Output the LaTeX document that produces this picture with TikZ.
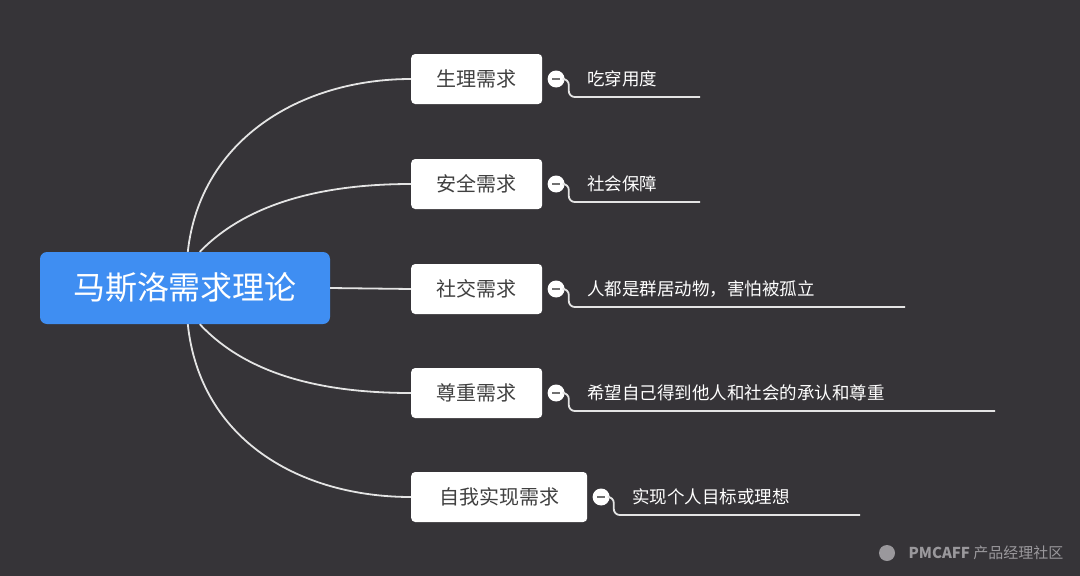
\documentclass[tikz,border=0pt]{standalone}
\usepackage{fontspec}
\setmainfont{Noto Sans CJK SC}
\usetikzlibrary{positioning}
\usetikzlibrary{calc}
\definecolor{bgdark}{HTML}{363438}
\definecolor{rootblue}{HTML}{3F8EF2}
\definecolor{linegrey}{HTML}{E4E4E4}
\definecolor{minusgrey}{HTML}{707070}
\definecolor{markgrey}{HTML}{9A989C}

\tikzset{
  needbox/.style={draw=none, fill=white, rounded corners=4pt, minimum height=50pt,
    inner xsep=20pt, text=black!75, font=\fontsize{20}{20}\selectfont, anchor=west},
  leaftext/.style={text=white, font=\fontsize{17.5}{17.5}\selectfont, anchor=west, inner sep=0pt},
  branch/.style={draw=linegrey, line width=1.8pt},
  collapse/.style={circle, fill=white, minimum size=17pt, inner sep=0pt},
}

\begin{document}
\begin{tikzpicture}[x=1pt, y=-1pt]

\fill[bgdark] (0,0) rectangle (1080,576);
\useasboundingbox (0,0) rectangle (1080,576);

\node[fill=rootblue, rounded corners=7pt, minimum width=290pt, minimum height=72pt,
  text=white, font=\fontsize{32}{32}\selectfont] (root) at (185,288) {马斯洛需求理论};

% need boxes, their leaves and underlines
\foreach \name/\ypos/\boxw/\need/\leaf/\lineend in {
  phys/79/131/生理需求/吃穿用度/700,
  safe/184/131/安全需求/社会保障/700,
  soc/289/131/社交需求/人都是群居动物，害怕被孤立/905,
  est/393/131/尊重需求/希望自己得到他人和社会的承认和尊重/995,
  self/497/176/自我实现需求/实现个人目标或理想/860} {
  \node[needbox, minimum width=\boxw pt] (\name) at (411,\ypos) {\need};
  \node[collapse, right=5pt of \name] (\name c) {};
  \draw[minusgrey, line width=1.6pt] ($(\name c)+(-4,0)$) -- ($(\name c)+(4,0)$);
  \node[leaftext, right=22pt of \name c] (\name l) {\leaf};
  \draw[branch, rounded corners=6pt] (\name c.east) -- ++(4,0) |- (\lineend,\ypos+18);
}

\draw[branch] (root.east) -- (soc.west);
\draw[branch] ($(root.north west)+(148,0)$) .. controls (200,140) and (300,79) .. (phys.west);
\draw[branch] ($(root.north west)+(160,0)$) .. controls (250,200) and (330,184) .. (safe.west);
\draw[branch] ($(root.south west)+(160,0)$) .. controls (250,378) and (330,393) .. (est.west);
\draw[branch] ($(root.south west)+(148,0)$) .. controls (200,440) and (300,497) .. (self.west);

% watermark
\node[text=markgrey, font=\fontsize{15}{15}\selectfont\bfseries, anchor=west] (mark) at (905,553) {PMCAFF \mdseries 产品经理社区};
\fill[markgrey] (887,553) circle (8pt);
\end{tikzpicture}
\end{document}
